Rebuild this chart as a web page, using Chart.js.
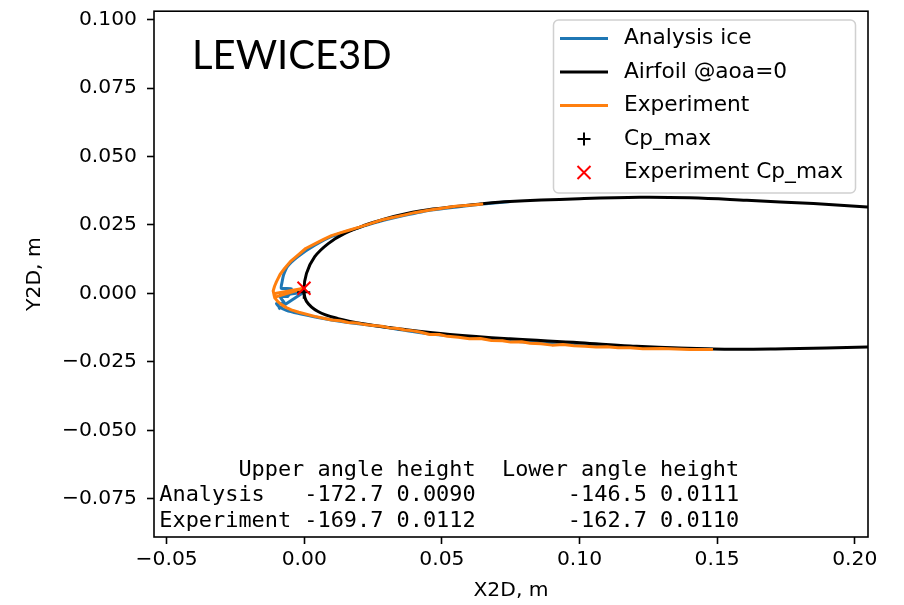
<!DOCTYPE html>
<html>
<head>
<meta charset="utf-8">
<script src="https://cdn.jsdelivr.net/npm/chart.js@4/dist/chart.umd.min.js"></script>
<style>
html, body { margin: 0; padding: 0; background: #fff; }
#wrap { width: 904px; height: 605px; position: relative; }
</style>
</head>
<body>
<div id="wrap"><canvas id="chart"></canvas></div>
<script>
// airfoil contour (m), upper surface from the right to the nose, then lower surface
const airfoilX = [0.215, 0.2045, 0.185, 0.1608, 0.140, 0.122, 0.100, 0.0747, 0.0649, 0.0467, 0.0365, 0.0293, 0.0220, 0.0147, 0.0087, 0.0038, 0.0008, -0.0001,
                  0.0008, 0.0050, 0.0123, 0.0220, 0.0365, 0.0529, 0.0747, 0.1002, 0.1184, 0.1485, 0.175, 0.2045, 0.215];
const airfoilY = [0.0309, 0.0316, 0.0328, 0.0340, 0.0349, 0.0351, 0.0346, 0.0336, 0.0328, 0.0308, 0.0290, 0.0272, 0.0249, 0.0219, 0.0182, 0.0134, 0.0073, 0.0012,
                  -0.0029, -0.0066, -0.0092, -0.0112, -0.0132, -0.0150, -0.0166, -0.0180, -0.0192, -0.0203, -0.0202, -0.0196, -0.0194];

// LEWICE3D analysis ice outline
const analysisX = [0.0750, 0.0650, 0.0456, 0.0365, 0.0281, 0.0159, 0.0099, 0.0038, -0.0023, -0.0060, -0.0075, -0.0081, -0.0084, -0.0047,
                   -0.0060, -0.0089, -0.0071, -0.0101, -0.0090, -0.0065, -0.0023, 0.0040, 0.0099, 0.0159, 0.0281, 0.0456, 0.0820, 0.1184, 0.1485];
const analysisY = [0.0336, 0.0327, 0.0304, 0.0285, 0.0265, 0.0228, 0.0208, 0.0176, 0.0135, 0.0100, 0.0068, 0.0040, 0.0019, 0.0017,
                   -0.0011, -0.0011, -0.0037, -0.0037, -0.0050, -0.0062, -0.0073, -0.0086, -0.0097, -0.0106, -0.0122, -0.0148, -0.0179, -0.0197, -0.0204];

// measured (experiment) ice outline
const experimentX = [0.0650, 0.0600, 0.0550, 0.0500, 0.0456, 0.0400, 0.0365, 0.0320, 0.0281, 0.0240, 0.0200, 0.0159, 0.0130, 0.0099, 0.0070, 0.0038, 0.0005,
                     -0.0023, -0.0050, -0.0071, -0.0088, -0.0101, -0.0108, -0.0113, -0.0110, -0.0107, -0.0096, -0.0083, -0.0065, -0.0047, -0.0020,
                     0.0038, 0.0070, 0.0100, 0.0130, 0.0160, 0.0190, 0.0220, 0.0250, 0.0281, 0.0310, 0.0340, 0.0365, 0.0390, 0.0420, 0.0456,
                     0.0490, 0.0520, 0.0560, 0.0600, 0.0640, 0.0680, 0.0720, 0.0750, 0.0790, 0.0820, 0.0860, 0.0900, 0.0940, 0.0980, 0.1020,
                     0.1060, 0.1100, 0.1140, 0.1184, 0.1230, 0.1300, 0.1400, 0.1485];
const experimentY = [0.0327, 0.0322, 0.0318, 0.0311, 0.0305, 0.0295, 0.0287, 0.0277, 0.0268, 0.0255, 0.0242, 0.0230, 0.0221, 0.0211, 0.0197, 0.0181, 0.0164,
                     0.0140, 0.0117, 0.0092, 0.0069, 0.0043, 0.0026, 0.0009, -0.0005, -0.0017, -0.0030, -0.0041, -0.0052, -0.0060, -0.0069,
                     -0.0084, -0.0091, -0.0097, -0.0100, -0.0106, -0.0108, -0.0114, -0.0117, -0.0120, -0.0126, -0.0128, -0.0134, -0.0136, -0.0141, -0.0150,
                     -0.0150, -0.0157, -0.0160, -0.0166, -0.0165, -0.0172, -0.0173, -0.0178, -0.0177, -0.0182, -0.0184, -0.0189, -0.0187, -0.0191, -0.0193,
                     -0.0196, -0.0195, -0.0199, -0.0199, -0.0202, -0.0201, -0.0205, -0.0205];

// Cp_max locations [x, y]
const cpMax = [-0.0002, 0.0004];
const expCpMax = [-0.0001, 0.0019];

// horn table
const tableRows = ['Analysis', 'Experiment'];
const upperAngle = [-172.7, -169.7];
const upperHeight = [0.0090, 0.0112];
const lowerAngle = [-146.5, -162.7];
const lowerHeight = [0.0111, 0.0110];

const xTicks = [-0.05, 0.00, 0.05, 0.10, 0.15, 0.20];
const yTicks = [-0.075, -0.050, -0.025, 0.000, 0.025, 0.050, 0.075, 0.100];

const BLUE = '#1f77b4';
const ORANGE = '#ff7f0e';

function toPoints(xs, ys) {
    return xs.map((x, i) => ({x: x, y: ys[i]}));
}

function hornLine(origin, angle, height) {
    const a = angle * Math.PI / 180;
    return [{x: origin[0], y: origin[1]},
            {x: origin[0] + height * Math.cos(a), y: origin[1] + height * Math.sin(a)}];
}

function lineSet(label, data, color, order, tension, hide) {
    return {
        label: label, data: data, showLine: true, borderColor: color, backgroundColor: color,
        borderWidth: 3, pointRadius: 0, pointHoverRadius: 0, order: order, clip: 0,
        tension: tension, borderJoinStyle: 'round', hideInLegend: !!hide
    };
}

const datasets = [
    lineSet('Analysis ice', toPoints(analysisX, analysisY), BLUE, 6, 0.15),
    lineSet('', hornLine(cpMax, upperAngle[0], upperHeight[0]), BLUE, 6, 0, true),
    lineSet('', hornLine(cpMax, lowerAngle[0], lowerHeight[0]), BLUE, 6, 0, true),
    lineSet('Airfoil @aoa=0', toPoints(airfoilX, airfoilY), '#000000', 5, 0.4),
    lineSet('Experiment', toPoints(experimentX, experimentY), ORANGE, 4, 0),
    lineSet('', hornLine(expCpMax, upperAngle[1], upperHeight[1]), ORANGE, 4, 0, true),
    lineSet('', hornLine(expCpMax, lowerAngle[1], lowerHeight[1]), ORANGE, 4, 0, true),
    {
        label: 'Cp_max', data: [{x: cpMax[0], y: cpMax[1]}], showLine: false,
        pointStyle: 'cross', pointRadius: 6.5, borderWidth: 2, borderColor: '#000000', order: 2
    },
    {
        label: 'Experiment Cp_max', data: [{x: expCpMax[0], y: expCpMax[1]}], showLine: false,
        pointStyle: 'crossRot', pointRadius: 9.2, borderWidth: 2, borderColor: '#ff0000', order: 1
    }
];

function fmtTick(v, digits) {
    return v.toFixed(digits).replace('-', '\u2212');
}

const decor = {
    id: 'decor',
    afterDraw(chart) {
        const ctx = chart.ctx;
        const area = chart.chartArea;
        ctx.save();

        // axes frame
        ctx.strokeStyle = '#000';
        ctx.lineWidth = 1.6;
        ctx.strokeRect(area.left, area.top, area.right - area.left, area.bottom - area.top);

        // big label
        ctx.fillStyle = '#000';
        ctx.font = '40px Lato';
        ctx.textBaseline = 'alphabetic';
        ctx.textAlign = 'left';
        ctx.fillText('LEWICE3D', 192, 68.5);

        // horn table
        ctx.font = '21.9px "DejaVu Sans Mono"';
        ctx.textBaseline = 'middle';
        const lines = [' '.repeat(6) + 'Upper angle height  Lower angle height'];
        tableRows.forEach((name, i) => {
            lines.push(name.padEnd(10) + ' ' + upperAngle[i].toFixed(1).padStart(6) + ' ' + upperHeight[i].toFixed(4) +
                       ' '.repeat(7) + lowerAngle[i].toFixed(1).padStart(6) + ' ' + lowerHeight[i].toFixed(4));
        });
        lines.forEach((s, i) => ctx.fillText(s, 159.3, 470 + i * 25.7));

        // axis titles
        ctx.font = '20.3px "DejaVu Sans"';
        ctx.textAlign = 'center';
        ctx.fillText('X2D, m', (area.left + area.right) / 2, 591);
        ctx.save();
        ctx.translate(35, (area.top + area.bottom) / 2);
        ctx.rotate(-Math.PI / 2);
        ctx.fillText('Y2D, m', 0, 0);
        ctx.restore();

        // legend
        const lx = 553.5, ly = 20, lw = 302, lh = 173;
        ctx.beginPath();
        ctx.roundRect(lx, ly, lw, lh, 5);
        ctx.fillStyle = 'rgba(255,255,255,0.8)';
        ctx.fill();
        ctx.strokeStyle = '#d0d0d0';
        ctx.lineWidth = 1.5;
        ctx.stroke();

        const items = chart.data.datasets.filter(d => !d.hideInLegend);
        ctx.font = '21.7px "DejaVu Sans"';
        ctx.textAlign = 'left';
        ctx.textBaseline = 'middle';
        items.forEach((d, i) => {
            const y = 38.5 + i * 33.5;
            if (d.showLine) {
                ctx.strokeStyle = d.borderColor;
                ctx.lineWidth = 3;
                ctx.beginPath();
                ctx.moveTo(560, y);
                ctx.lineTo(608, y);
                ctx.stroke();
            } else {
                ctx.strokeStyle = d.borderColor;
                ctx.lineWidth = d.borderWidth;
                Chart.helpers.drawPoint(ctx, {pointStyle: d.pointStyle, radius: d.pointRadius, borderWidth: d.borderWidth}, 584, y);
            }
            ctx.fillStyle = '#000';
            ctx.fillText(d.label, 624, y);
        });
        ctx.restore();
    }
};

Chart.defaults.font.family = '"DejaVu Sans"';
Chart.defaults.font.size = 20.3;
Chart.defaults.color = '#000';

new Chart(document.getElementById('chart'), {
    type: 'scatter',
    data: {datasets: datasets},
    options: {
        responsive: true,
        maintainAspectRatio: false,
        animation: false,
        events: [],
        layout: {padding: {top: 8, right: 36, left: 0, bottom: 0}},
        plugins: {
            legend: {display: false},
            tooltip: {enabled: false}
        },
        scales: {
            x: {
                type: 'linear',
                min: -0.0546,
                max: 0.2048,
                afterBuildTicks: s => { s.ticks = xTicks.map(v => ({value: v})); },
                afterFit: s => { s.height = 68; s.paddingLeft = 0; s.paddingRight = 0; },
                grid: {drawOnChartArea: false, drawTicks: true, tickLength: 7, tickWidth: 1.6, color: '#000'},
                border: {display: false},
                ticks: {padding: 4, maxRotation: 0, autoSkip: false, callback: v => fmtTick(v, 2)}
            },
            y: {
                type: 'linear',
                min: -0.0890,
                max: 0.1031,
                afterBuildTicks: s => { s.ticks = yTicks.map(v => ({value: v})); },
                afterFit: s => { s.width = 154; s.paddingTop = 0; s.paddingBottom = 0; },
                grid: {drawOnChartArea: false, drawTicks: true, tickLength: 7, tickWidth: 1.6, color: '#000'},
                border: {display: false},
                ticks: {padding: 10, autoSkip: false, callback: v => fmtTick(v, 3)}
            }
        }
    },
    plugins: [decor]
});
</script>
</body>
</html>
